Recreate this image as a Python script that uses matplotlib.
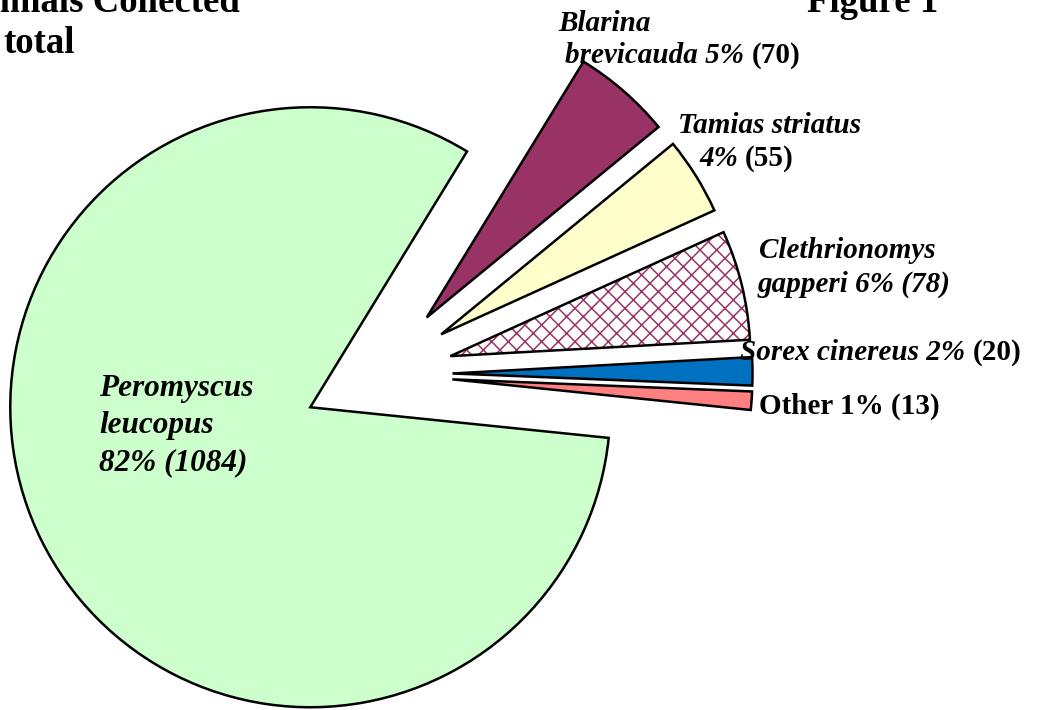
import matplotlib
matplotlib.use("Agg")
import matplotlib.pyplot as plt
import matplotlib.patches as mpatches

# ---- data ----
species = ["Blarina brevicauda", "Tamias striatus", "Clethrionomys gapperi",
           "Sorex cinereus", "Other", "Peromyscus leucopus"]
counts = [70, 55, 78, 20, 13, 1084]
percents = [5, 4, 6, 2, 1, 82]
colors = ["#993366", "#FFFFCC", "#FFFFFF", "#0070C0", "#FF8080", "#CCFFCC"]
explode = [0.25, 0.25, 0.25, 0.25, 0.25, 0.25]
title_lines = ["Small Mammals Collected", "total"]
figure_label = "Figure 1"

W, H = 1038, 710
plt.rcParams['hatch.linewidth'] = 1.1
fig = plt.figure(figsize=(W / 100, H / 100), dpi=100)
ax = fig.add_axes([0, 0, 1, 1])

R = 300.0          # pie radius in pixels
CX, CY = 377.5, 374  # pie centre in pixels (image coords)
EW = 1.8

wedges, _ = ax.pie(counts, explode=explode, colors=colors, startangle=58.5,
                   counterclock=False, radius=1, center=(0, 0),
                   wedgeprops=dict(edgecolor="black", linewidth=EW))
ax.set_xlim(-CX / R, (W - CX) / R)
ax.set_ylim(-(H - CY) / R, CY / R)
ax.set_aspect("equal")
ax.axis("off")

# hatched Clethrionomys slice (plum lattice on white) + black outline
hw = wedges[2]
hw.set_edgecolor("#993366")
hw.set_linewidth(0)
hw.set_hatch("xx")
ax.add_patch(mpatches.Wedge(hw.center, hw.r, hw.theta1, hw.theta2,
                            fill=False, edgecolor="black", linewidth=EW))

SERIF = "Liberation Serif"


def px(x, y):
    return x / W, 1 - y / H


def put(x, y, parts, size):
    prev = None
    for s, it in parts:
        kw = dict(fontsize=size, fontweight="bold",
                  fontstyle="italic" if it else "normal",
                  family=SERIF, color="black")
        if prev is None:
            prev = fig.text(*px(x, y), s, ha="left", va="baseline", **kw)
        else:
            prev = ax.annotate(s, xy=(1, 0), xycoords=prev,
                               xytext=(size * 0.25, 0), textcoords="offset points",
                               ha="left", va="bottom", **kw)


LS = 21
lab = [f"{p}%" for p in percents]
num = [f"({c})" for c in counts]
g = [s.split() for s in species]

put(558, 31, [(g[0][0], True)], LS)
put(565, 63, [(f"{g[0][1]} {lab[0]}", True), (num[0], False)], LS)
put(678, 133, [(species[1], True)], LS)
put(699, 166, [(lab[1], True), (num[1], False)], LS)
put(759, 258, [(g[2][0], True)], LS)
put(758, 292, [(f"{g[2][1]} {lab[2]} {num[2]}", True)], LS)
put(740, 360, [(f"{species[3]} {lab[3]}", True), (num[3], False)], LS)
put(759, 414, [(f"{species[4]} {lab[4]} {num[4]}", False)], LS)
PS = 22.5
put(99, 396, [(g[5][0], True)], PS)
put(99, 433, [(g[5][1], True)], PS)
put(99, 470, [(f"{lab[5]} {num[5]}", True)], PS)

# title (partially cut off at the figure edge, as in the reference)
fig.text(*px(240, 12), title_lines[0], ha="right", va="baseline",
         fontsize=26.5, fontweight="bold", family=SERIF)
fig.text(*px(3, 53), title_lines[1], ha="left", va="baseline",
         fontsize=26.5, fontweight="bold", family=SERIF)
fig.text(*px(807, 12), figure_label, ha="left", va="baseline",
         fontsize=26.5, fontweight="bold", family=SERIF)

fig.savefig("out.png", dpi=100)
